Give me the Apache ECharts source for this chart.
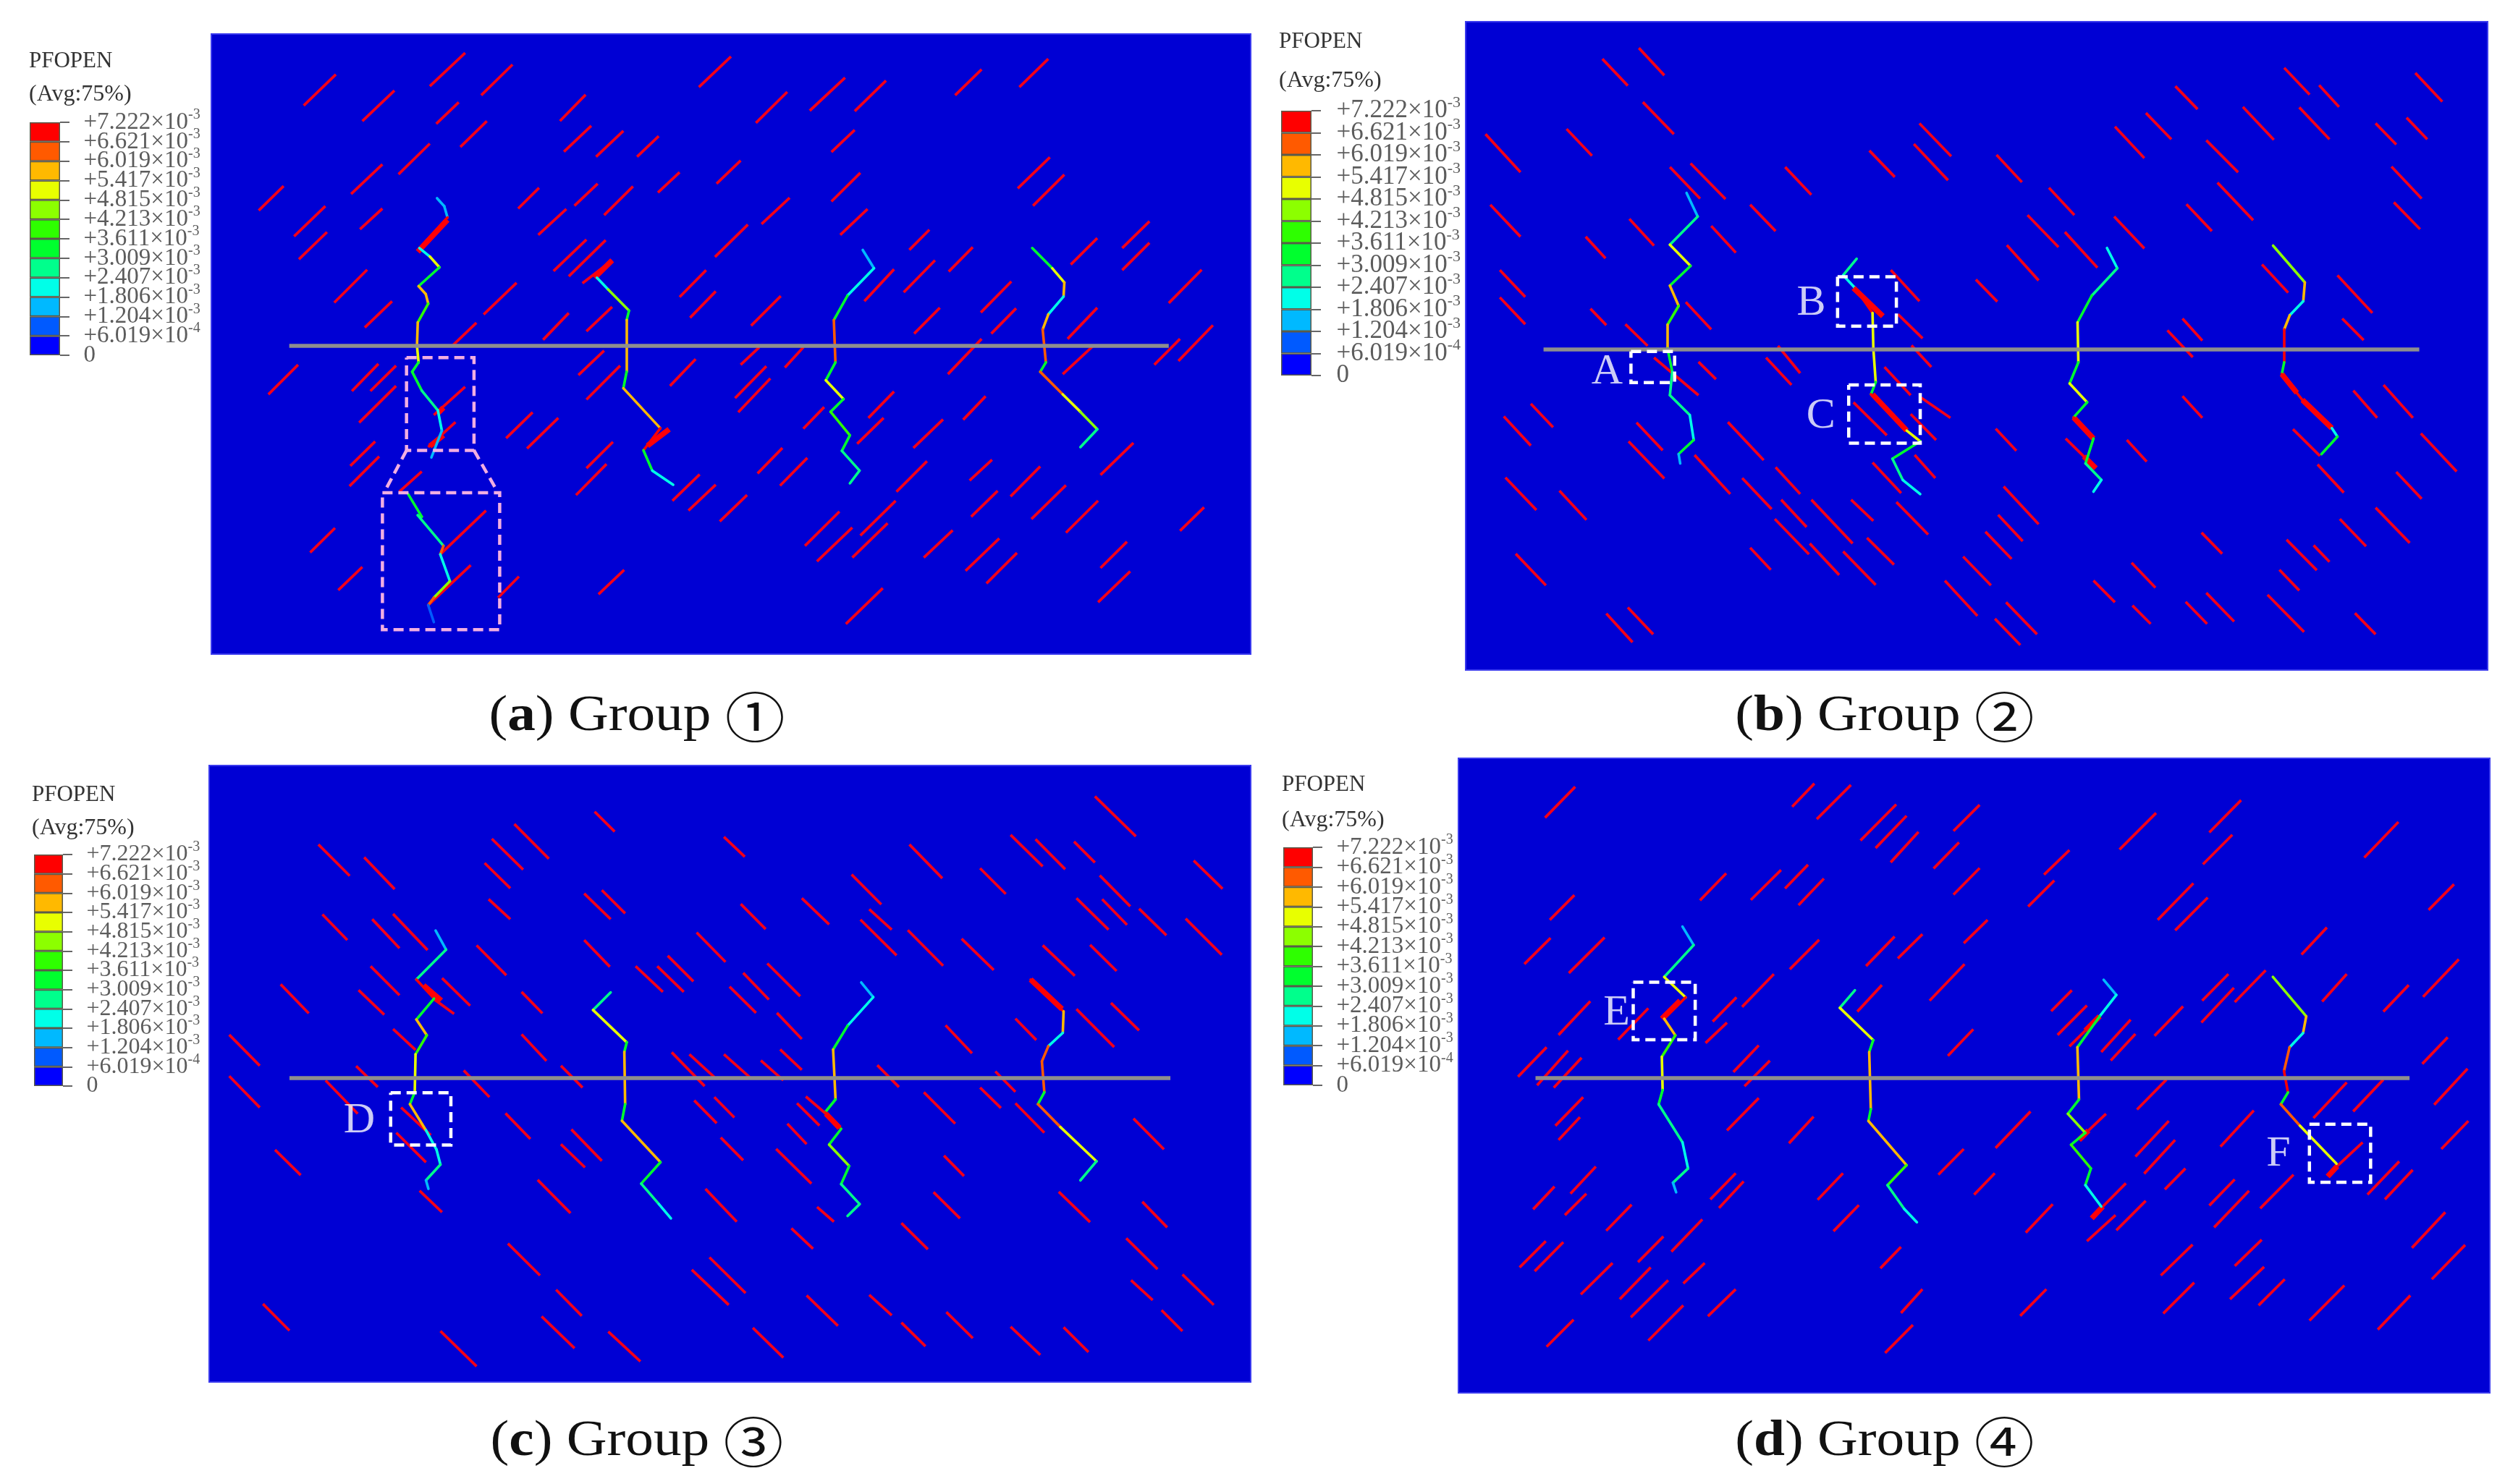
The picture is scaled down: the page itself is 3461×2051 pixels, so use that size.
<!DOCTYPE html>
<html><head><meta charset="utf-8">
<style>html,body{margin:0;padding:0;background:#fff}#c{width:3461px;height:2051px;filter:blur(0.7px)}</style>
<script src="https://cdn.jsdelivr.net/npm/echarts@6/dist/echarts.min.js"></script>
</head><body><div id="c"></div>
<script>
// PFOPEN colour scale (bottom band first) and tick labels
const bandColors = ['#0000ff','#005aff','#00b9ff','#00ffe8','#00ff8c','#00ff2e','#2eff00','#8cff00','#e8ff00','#ffb900','#ff5a00','#ff0000'];
const tickMantissa = ['0','+6.019×10','+1.204×10','+1.806×10','+2.407×10','+3.009×10','+3.611×10','+4.213×10','+4.815×10','+5.417×10','+6.019×10','+6.621×10','+7.222×10'];
const tickExponent = ['','-4','-3','-3','-3','-3','-3','-3','-3','-3','-3','-3','-3'];

// Natural fractures [x1,y1,x2,y2], model coordinates read per panel
const fracturesA = [[535,183,579,112],[599,202,638,137],[378,224,418,158],[451,257,491,192],[543,263,571,217],[573,312,606,257],[496,370,535,305],[437,412,476,349],[322,447,353,395],[366,502,405,438],[448,487,476,443],[372,551,407,493],[416,643,457,573],[454,696,488,640],[602,668,643,601],[564,733,593,686],[697,257,729,201],[702,322,736,267],[742,333,776,278],[793,333,820,289],[870,185,910,120],[941,261,980,195],[1008,235,1052,165],[1064,236,1103,171],[1189,202,1222,147],[1269,185,1305,125],[1035,323,1064,276],[892,390,922,341],[819,409,846,366],[645,443,671,399],[715,437,744,390],[670,499,705,444],[752,457,788,396],[948,476,983,420],[1035,428,1071,367],[1046,499,1080,444],[1267,400,1307,334],[1286,437,1325,371],[890,546,931,477],[689,576,730,509],[708,587,754,510],[725,602,762,553],[846,631,879,574],[859,675,891,619],[935,692,972,629],[676,722,708,665],[730,704,762,652],[1132,531,1157,488],[1181,577,1211,525],[1125,621,1164,553],[1076,640,1113,572],[1333,562,1366,506],[1397,527,1431,470],[1397,574,1431,516],[1455,644,1496,573],[1221,664,1259,598],[1138,709,1170,654],[1234,709,1265,655],[1329,720,1366,654],[1180,795,1222,720],[1323,795,1362,733],[1437,775,1469,720],[1467,767,1510,691],[922,775,945,738],[977,781,1000,738],[720,797,752,745],[834,820,866,763],[730,849,772,777],[915,846,954,778],[919,876,959,804],[334,838,371,775],[438,831,471,773],[461,831,493,777],[447,898,493,820],[540,882,579,822],[533,950,567,897],[630,931,663,876],[656,953,695,888],[436,990,467,938],[435,1033,472,970],[497,1045,525,1002],[730,995,763,939],[717,1052,755,986],[837,1064,871,1008],[857,1085,891,1030],[896,1108,930,1052],[943,1006,974,952],[971,1032,1005,973],[1000,911,1026,865],[1081,888,1113,832],[1067,943,1100,888],[1199,892,1227,842],[1137,952,1174,891],[1116,1045,1154,980],[1207,1021,1235,977],[1258,1055,1295,991],[1370,1009,1411,941],[1209,1098,1242,1043],[1284,1103,1327,1031],[1327,1132,1367,1064],[1002,1160,1045,1087],[1017,1193,1061,1121],[1071,1138,1115,1064],[1061,1185,1105,1112],[1150,1185,1186,1127],[1202,1213,1244,1144],[1228,1240,1266,1175],[1370,1207,1403,1151],[1367,1280,1407,1214],[1469,1128,1499,1078],[1053,1326,1099,1250],[386,1174,417,1122],[421,1254,451,1205],[620,1270,646,1225],[745,1263,777,1211],[548,1178,605,1085],[533,1286,586,1201]];
const fracturesB = [[432,125,464,182],[478,102,510,160],[483,217,522,285],[285,285,329,366],[387,274,419,331],[831,262,871,332],[824,306,867,383],[768,320,800,376],[928,329,960,387],[662,355,695,414],[517,355,555,422],[543,347,587,423],[1153,183,1181,232],[1290,144,1322,201],[1334,181,1359,227],[1455,155,1489,216],[1116,240,1148,296],[1077,269,1114,336],[1238,227,1277,297],[1309,228,1347,296],[1405,262,1431,307],[1444,250,1470,296],[1192,298,1232,366],[1425,354,1463,422],[1206,388,1251,468],[1428,430,1461,487],[1167,434,1199,491],[1076,460,1114,528],[994,399,1026,457],[967,457,1006,525],[1014,493,1055,569],[941,521,981,596],[291,435,329,503],[411,503,436,549],[466,465,497,522],[569,480,600,537],[618,435,650,491],[303,574,335,631],[303,632,335,689],[417,656,437,691],[537,642,569,700],[461,689,489,735],[795,574,831,640],[902,594,929,641],[804,668,835,719],[1262,562,1295,622],[1357,585,1401,665],[1363,677,1390,723],[1162,677,1187,724],[1143,702,1175,759],[821,734,846,780],[638,760,670,818],[653,735,681,793],[553,769,575,806],[497,760,553,840],[787,780,820,840],[748,855,790,925],[833,845,870,888],[820,880,852,935],[342,858,370,908],[308,885,342,947],[475,898,508,957],[465,938,510,1017],[590,897,635,978],[548,967,593,1050],[608,1016,645,1082],[650,993,681,1050],[1377,830,1407,888],[1415,818,1452,888],[1162,842,1187,888],[1301,912,1335,969],[1462,921,1507,1002],[927,911,953,958],[1092,935,1117,981],[1015,932,1053,995],[772,983,808,1048],[825,967,851,1016],[1332,987,1365,1047],[1431,1003,1463,1060],[310,1015,349,1084],[378,1043,412,1105],[657,1062,689,1120],[695,1062,747,1155],[745,1062,773,1107],[802,1067,842,1136],[937,1034,981,1114],[930,1094,961,1150],[914,1130,947,1188],[649,1103,692,1178],[693,1155,730,1222],[618,1164,644,1211],[765,1143,799,1200],[735,1172,776,1243],[886,1183,921,1244],[863,1234,904,1309],[1186,1132,1212,1177],[1098,1196,1128,1249],[1050,1234,1077,1280],[1360,1103,1393,1161],[1405,1079,1448,1154],[1293,1147,1331,1212],[1327,1159,1347,1194],[1284,1211,1309,1255],[1269,1264,1315,1343],[1192,1260,1227,1321],[1166,1279,1193,1326],[1099,1287,1122,1326],[1379,1303,1405,1348],[940,1280,979,1348],[926,1315,958,1371],[437,1304,470,1365],[464,1291,496,1348],[323,1177,361,1244]];
const fracturesC = [[396,224,435,290],[453,251,491,318],[612,212,651,277],[640,181,683,254],[603,263,635,316],[740,155,765,197],[901,208,927,250],[1132,224,1173,295],[1258,204,1298,270],[1289,213,1326,276],[1337,218,1363,262],[1363,123,1414,207],[1486,258,1522,317],[1220,274,1252,328],[1060,287,1097,350],[1369,289,1407,354],[1340,337,1380,403],[1372,339,1403,393],[1418,359,1452,415],[1476,380,1521,456],[998,337,1032,392],[922,349,953,402],[1082,360,1110,403],[1071,382,1116,457],[1130,404,1174,479],[1197,422,1237,488],[1298,436,1338,500],[1357,435,1390,490],[727,327,760,381],[749,320,778,369],[608,339,635,381],[401,371,432,425],[463,381,497,442],[489,370,532,446],[593,436,630,499],[727,425,759,481],[867,409,903,471],[461,480,497,541],[791,480,825,534],[818,480,851,534],[831,458,863,512],[955,474,996,543],[925,494,957,550],[908,523,941,578],[967,578,998,633],[349,518,384,579],[446,530,478,582],[550,505,585,563],[539,548,565,580],[649,534,675,579],[1383,557,1418,615],[1340,570,1387,650],[1264,590,1290,635],[1177,604,1210,663],[489,612,517,656],[649,623,680,679],[285,624,323,689],[285,711,323,777],[971,655,998,698],[836,661,877,732],[858,665,889,713],[901,665,933,713],[947,678,975,720],[1092,688,1119,734],[1239,701,1264,744],[1220,735,1246,778],[1264,768,1300,830],[443,690,470,734],[698,689,725,735],[577,699,609,755],[405,720,445,790],[864,762,892,810],[889,755,914,798],[1150,745,1189,811],[1411,800,1449,865],[1003,754,1028,790],[992,768,1020,815],[980,811,1004,854],[629,789,660,843],[499,777,536,835],[711,823,749,889],[698,854,728,903],[897,840,925,888],[966,864,1010,937],[1175,878,1200,921],[493,830,530,892],[342,866,374,919],[669,929,710,999],[878,948,917,1017],[1162,955,1195,1010],[1318,954,1357,1018],[1422,975,1453,1029],[522,952,550,997],[1017,986,1038,1017],[985,1031,1012,1074],[1122,1020,1155,1075],[632,1063,672,1130],[1402,1052,1441,1117],[883,1092,928,1167],[861,1118,907,1192],[1408,1140,1435,1182],[1472,1128,1511,1192],[692,1160,724,1215],[1004,1172,1043,1236],[1082,1171,1110,1214],[1178,1207,1211,1262],[1122,1229,1152,1279],[1446,1203,1472,1247],[327,1190,360,1246],[674,1216,715,1283],[757,1248,797,1311],[548,1247,593,1321],[937,1240,975,1303],[1258,1238,1295,1297],[1324,1239,1355,1291]];
const fracturesD = [[360,167,398,102],[671,144,699,95],[702,170,745,98],[757,215,802,139],[776,231,815,163],[795,261,830,197],[874,195,907,140],[849,274,881,219],[874,329,907,273],[988,287,1020,235],[968,354,1001,299],[1083,234,1129,157],[1196,198,1236,130],[1188,265,1225,203],[1391,251,1434,176],[1131,382,1176,305],[1153,404,1194,335],[1472,361,1504,307],[555,341,588,284],[619,340,657,277],[662,316,691,266],[679,351,711,295],[366,382,397,330],[334,475,367,420],[390,494,435,419],[668,486,705,424],[764,479,800,417],[804,463,835,412],[887,431,917,382],[844,552,888,475],[1312,455,1344,398],[608,565,648,496],[571,596,601,545],[753,575,784,519],[562,641,589,598],[377,624,417,553],[452,634,490,568],[867,668,899,612],[997,574,1023,530],[1005,624,1042,562],[1020,648,1040,615],[1060,660,1097,592],[1072,678,1103,622],[1127,626,1163,564],[1187,552,1220,496],[1186,598,1227,525],[1228,555,1267,488],[1338,554,1369,496],[1415,575,1447,519],[1465,544,1510,465],[1464,685,1496,629],[326,712,362,650],[350,730,389,657],[371,735,406,672],[597,702,629,646],[611,732,643,678],[1105,781,1142,718],[1479,771,1521,695],[1327,799,1369,724],[1377,785,1415,718],[373,815,408,755],[377,845,404,797],[589,825,629,757],[667,852,698,796],[927,862,971,785],[1044,825,1066,790],[1103,880,1145,805],[1114,916,1153,845],[1210,859,1252,783],[1488,864,1522,805],[855,918,887,864],[900,960,926,915],[392,958,424,901],[345,991,372,943],[385,1003,412,958],[568,970,600,915],[579,988,610,932],[703,971,735,915],[723,1037,755,982],[437,1036,469,981],[965,1040,999,980],[1140,949,1166,905],[1062,985,1091,936],[1042,1058,1078,1003],[1079,1035,1116,973],[1196,983,1228,928],[1202,1029,1246,952],[1260,989,1302,918],[1357,900,1389,850],[1395,960,1435,890],[1417,970,1452,908],[1451,1072,1493,997],[1476,1138,1518,1066],[1135,1130,1175,1065],[1228,1110,1262,1055],[1222,1180,1265,1112],[1258,1193,1291,1138],[1138,1210,1177,1145],[1322,1225,1366,1151],[1408,1244,1449,1172],[328,1113,361,1058],[347,1121,383,1060],[405,1170,445,1104],[454,1180,493,1113],[468,1218,515,1140],[534,1147,561,1104],[477,1102,509,1048],[519,1080,558,1012],[565,1216,600,1159],[490,1267,534,1193],[362,1280,396,1223],[782,1115,808,1070],[808,1209,835,1159],[788,1293,823,1234],[958,1215,991,1159]];

// Open fractures, drawn thick
const openA = [[520,535,557,467],[740,590,762,553],[806,947,833,912],[545,878,552,866],[535,948,552,925]];
const openB = [[748,612,785,672],[772,838,815,915],[1287,795,1306,835],[1313,850,1350,910],[1025,887,1050,932],[1038,970,1053,995]];
const openC = [[527,520,549,552],[1283,508,1322,570],[1028,790,1045,820]];
const openD = [[507,590,530,552],[1040,615,1058,585],[1032,845,1044,825],[1048,1010,1062,985],[1345,922,1357,900]];

// Hydraulic fractures: [x, y, PFOPEN×10³ of the stretch ending at this point]
const cracksA = [
 [[544,421,0],[553,438,1.5],[557,462,1.8],[522,527,7.2],[535,545,2.2],[547,568,4.9],[521,608,3.4],[530,625,5.6],[533,645,5.6],[520,685,3.9],[519,735,5.6],[521,770,5],[513,790,3.4],[525,830,3.2],[545,872,2.6],[550,915,2],[537,972,1.4]],
 [[743,590,0],[757,615,1.9],[783,660,4.7],[780,680,3.4],[780,790,5.7],[776,825,3.4],[822,910,5.7],[801,957,7],[812,1000,3.1],[838,1030,2]],
 [[1074,531,0],[1088,570,1.8],[1055,628,2.1],[1038,680,3.6],[1040,770,6.2],[1028,808,3.4],[1050,848,5],[1034,875,3.4],[1058,925,4],[1048,958,3.4],[1070,1000,2.8],[1058,1027,3]],
 [[1285,527,0],[1310,570,3.5],[1325,600,5],[1324,630,5.7],[1305,668,2],[1298,700,6],[1302,770,6.6],[1295,790,3.6],[1323,838,6.3],[1345,875,5],[1366,912,4.5],[1345,950,3]],
 [[508,1050,0],[525,1098,3.5],[520,1095,3.5],[552,1160,2.6],[548,1178,6.4],[560,1235,2],[540,1270,4.8],[533,1286,6.2],[540,1322,1.2]]
];
const cracksB = [
 [[538,410,0],[552,460,1.6],[517,520,3],[543,565,4.9],[517,607,3.4],[528,650,5.6],[514,690,3.9],[514,740,5.5],[520,790,3.2],[517,840,3],[542,882,2.8],[547,935,1.9],[528,965,3.2],[530,985,1.3]],
 [[752,550,0],[735,585,3],[750,612,2],[772,665,7],[773,740,5.4],[776,812,5.3],[770,838,3.4],[815,915,7],[832,938,5],[797,975,3.4],[810,1020,3],[832,1050,2]],
 [[1067,527,0],[1080,570,1.9],[1048,628,3],[1030,685,3.4],[1031,770,5.4],[1020,815,3.4],[1042,855,5],[1025,887,3.4],[1050,932,7.1],[1040,985,3.4],[1060,1020,2.6],[1050,1045,2]],
 [[1276,522,0],[1316,600,4.8],[1314,640,5.6],[1297,670,2],[1290,700,5.8],[1290,770,7],[1287,795,3.5],[1313,850,7],[1350,910,7],[1357,928,2],[1337,965,3.3]]
];
const cracksC = [
 [[542,405,0],[555,445,1.6],[518,508,3],[540,548,7],[518,592,3.4],[531,625,5.6],[517,665,3.9],[516,745,5.2],[510,770,3.2],[530,825,6],[543,865,2],[548,897,2],[530,930,3],[533,948,1.3]],
 [[760,535,0],[738,572,3],[780,640,4.9],[777,660,3.5],[778,770,5.7],[774,805,3.4],[822,892,5.6],[798,937,3.6],[820,980,2.9],[835,1010,1.9]],
 [[1072,514,0],[1087,545,1.8],[1055,605,2.2],[1037,655,3.4],[1040,760,6],[1027,787,3.2],[1047,822,7],[1032,855,3.4],[1057,900,4.4],[1047,938,3.4],[1070,980,2.6],[1055,1005,3]],
 [[1283,508,0],[1324,575,7],[1323,620,5.6],[1305,648,2],[1297,680,6.3],[1300,745,6.6],[1292,770,3.6],[1320,818,6.3],[1365,890,5],[1345,930,3]]
];
const cracksD = [
 [[533,396,0],[547,435,1.6],[510,502,3],[537,545,4.9],[510,590,7],[524,625,5.6],[507,670,3.8],[508,740,5],[503,770,3.2],[533,850,3],[540,905,2],[521,935,3],[525,955,1.3]],
 [[750,530,0],[731,567,3],[773,635,4.9],[768,660,3.5],[770,780,5.6],[767,805,3.6],[815,898,5.7],[791,940,3.8],[812,990,2.8],[828,1018,1.9]],
 [[1063,508,0],[1079,540,1.8],[1058,585,2],[1030,650,3.3],[1032,760,5.8],[1018,790,3.2],[1040,830,4.6],[1022,855,3.4],[1047,905,4],[1040,940,3.4],[1060,985,2.4]],
 [[1276,502,0],[1318,585,4.8],[1314,620,5.6],[1297,650,2],[1290,700,6.2],[1295,745,6.8],[1286,770,3.5],[1310,815,6.2],[1356,895,5]]
];

// Interface line [x1,y,x2]
const interfaceA = [360,735,1455];
const interfaceB = [358,742,1460];
const interfaceC = [360,715,1457];
const interfaceD = [348,715,1448];

// Marked regions and their letters
const boxesB = [[468,747,523,813],[728,588,802,693],[742,818,832,942]];
const boxesC = [[486,746,561,856]];
const boxesD = [[471,513,549,634],[1322,812,1399,934]];
const boxesAPink = [[506,760,590,957],[476,1047,622,1338]];
const linksAPink = [[506,957,478,1047],[590,957,620,1047]];
const lettersB = [[438,790,'A'],[695,645,'B'],[707,885,'C']];
const lettersC = [[447,805,'D']];
const lettersD = [[450,578,'E'],[1283,875,'F']];

const captionNames = [['a','①'],['b','②'],['c','③'],['d','④']];

const RED='#f40018', SERIF='"Liberation Serif"';
const panels = [
 {rect:[292,47,1436,857], dom:[263,1557,72,1390], fr:fracturesA, op:openA, cr:cracksA, gl:interfaceA, boxes:[], letters:[], pink:true,
  leg:[41,169,42,322], labelGap:32, font:33, pf:[40,85], avg:[40,131], cap:[880,991]},
 {rect:[2025,30,1412,896], dom:[260,1546,46,1424], fr:fracturesB, op:openB, cr:cracksB, gl:interfaceB, boxes:boxesB, letters:lettersB,
  leg:[1770,153,42,366], labelGap:34, font:35, pf:[1767,58], avg:[1767,112], cap:[2604,991]},
 {rect:[289,1058,1439,852], dom:[260,1557,58,1354], fr:fracturesC, op:openC, cr:cracksC, gl:interfaceC, boxes:boxesC, letters:lettersC,
  leg:[47,1181,40,320], labelGap:32, font:32, pf:[44,1099], avg:[44,1145], cap:[880,1993]},
 {rect:[2015,1048,1425,877], dom:[251,1549,42,1377], fr:fracturesD, op:openD, cr:cracksD, gl:interfaceD, boxes:boxesD, letters:lettersD,
  leg:[1773,1171,41,329], labelGap:32, font:33, pf:[1771,1085], avg:[1771,1134], cap:[2604,1993]}
];

const colorOf = v => bandColors[Math.min(11, Math.floor(v/0.6018))];
const segs = (list,w,color,extra) => list.map(s=>({coords:[[s[0],s[1]],[s[2],s[3]]],lineStyle:Object.assign({color,width:w,opacity:1},extra||{})}));
const boxLine = b => ({coords:[[b[0],b[1]],[b[2],b[1]],[b[2],b[3]],[b[0],b[3]],[b[0],b[1]]]});

const grid=[],xAxis=[],yAxis=[],series=[],graphic=[];
panels.forEach((p,i)=>{
  const gi=grid.length;
  grid.push({left:p.rect[0],top:p.rect[1],width:p.rect[2],height:p.rect[3],show:true,backgroundColor:'#0000d4',borderColor:'#3a3aee',borderWidth:2,containLabel:false});
  xAxis.push({gridIndex:gi,type:'value',min:p.dom[0],max:p.dom[1],show:false});
  yAxis.push({gridIndex:gi,type:'value',min:p.dom[2],max:p.dom[3],inverse:true,show:false});
  const base={type:'lines',coordinateSystem:'cartesian2d',xAxisIndex:gi,yAxisIndex:gi,silent:true,animation:false,polyline:false};
  series.push(Object.assign({},base,{name:'fractures '+i,data:segs(p.fr,3.8,RED),z:2}));
  series.push(Object.assign({},base,{name:'open '+i,data:segs(p.op,7.5,'#ff0008'),z:3}));
  const crackData=[];
  p.cr.forEach(c=>{for(let k=1;k<c.length;k++){crackData.push({coords:[[c[k-1][0],c[k-1][1]],[c[k][0],c[k][1]]],lineStyle:{color:colorOf(c[k][2]),width:3.6,opacity:1,cap:'round'}});}});
  series.push(Object.assign({},base,{name:'cracks '+i,data:crackData,z:4}));
  series.push(Object.assign({},base,{name:'interface '+i,data:[{coords:[[p.gl[0],p.gl[1]],[p.gl[2],p.gl[1]]]}],lineStyle:{color:'#8e8e8e',width:5.5,opacity:1},z:5}));
  if(p.boxes.length) series.push(Object.assign({},base,{name:'boxes '+i,polyline:true,data:p.boxes.map(boxLine),lineStyle:{color:'#ffffff',width:4.5,opacity:1,type:[14,8]},z:6}));
  if(p.pink){
    series.push(Object.assign({},base,{name:'zoom box',polyline:true,data:boxesAPink.map(boxLine),lineStyle:{color:'#f2aee2',width:4.5,opacity:1,type:[14,8]},z:6}));
    series.push(Object.assign({},base,{name:'zoom link',data:segs(linksAPink,4.5,'#f2aee2',{type:[14,8]}),z:6}));
  }
  if(p.letters.length) series.push({type:'scatter',xAxisIndex:gi,yAxisIndex:gi,silent:true,animation:false,symbolSize:1,itemStyle:{color:'transparent'},z:7,
    data:p.letters,label:{show:true,position:'inside',formatter:o=>o.value[2],color:'#fff',fontFamily:SERIF,fontSize:60}});

  // colour legend
  const lg=grid.length;
  grid.push({left:p.leg[0],top:p.leg[1],width:p.leg[2],height:p.leg[3],containLabel:false});
  xAxis.push({gridIndex:lg,type:'category',data:['PFOPEN'],show:false});
  yAxis.push({gridIndex:lg,type:'value',position:'right',min:0,max:12,interval:1,
    axisLine:{show:false},splitLine:{show:false},axisLabel:{show:false},
    axisTick:{show:true,length:13,lineStyle:{color:'#666',width:2}}});
  bandColors.forEach((c,b)=>series.push({type:'bar',xAxisIndex:lg,yAxisIndex:lg,stack:'legend'+i,barWidth:'100%',silent:true,animation:false,data:[1],
     itemStyle:{color:c,borderColor:'#5a5a4a',borderWidth:1.5}}));
  series.push({type:'scatter',xAxisIndex:lg,yAxisIndex:lg,silent:true,animation:false,clip:false,symbolSize:1,itemStyle:{color:'transparent'},z:8,
    data:tickMantissa.map((m,v)=>['PFOPEN',v]),
    labelLayout:{hideOverlap:false},
    label:{show:true,position:'right',distance:p.leg[2]/2+p.labelGap,offset:[0,2],color:'#333',
      formatter:o=>`{m|${tickMantissa[o.value[1]]}}`+(tickExponent[o.value[1]]?`{e|${tickExponent[o.value[1]]}}`:''),
      rich:{m:{fontFamily:SERIF,fontSize:p.font,color:'#333'},e:{fontFamily:SERIF,fontSize:Math.round(p.font*0.62),color:'#333',padding:[0,0,Math.round(p.font*0.62),0]}}}});

  const t=(x,y,text,size)=>({type:'text',x,y,silent:true,style:{text,fill:'#333',fontFamily:SERIF,fontSize:size,align:'left',verticalAlign:'middle'}});
  graphic.push(t(p.pf[0],p.pf[1],'PFOPEN',31));
  graphic.push(t(p.avg[0],p.avg[1],'(Avg:75%)',32));
  graphic.push({type:'text',x:p.cap[0],y:p.cap[1],scaleX:1.12,silent:true,style:{
    text:`{p|(}{b|${captionNames[i][0]}}{p|) Group }{c|${captionNames[i][1]}}`,align:'center',verticalAlign:'middle',
    rich:{p:{fontFamily:SERIF,fontSize:69,fill:'#111',color:'#111'},b:{fontFamily:SERIF,fontSize:69,fontWeight:'bold',fill:'#111',color:'#111'},c:{fontFamily:'"Noto Sans CJK JP"',fontSize:74,fill:'#111',color:'#111'}}}});
});

const chart=echarts.init(document.getElementById('c'));
chart.setOption({animation:false,backgroundColor:'#fff',grid,xAxis,yAxis,series,graphic:{elements:graphic}});
</script></body></html>
